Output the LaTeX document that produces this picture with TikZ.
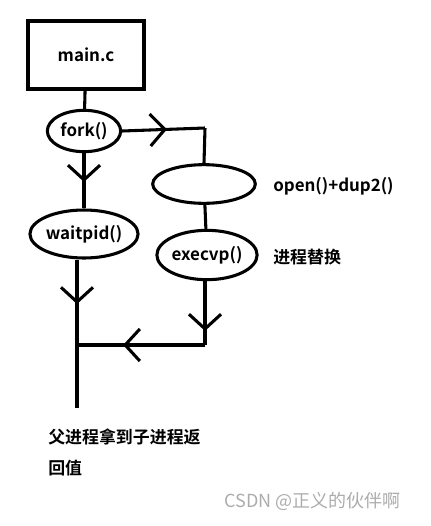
\documentclass[tikz,border=0pt]{standalone}
\usepackage{fontspec}
\setmainfont{Noto Sans CJK SC}[BoldFont={Noto Sans CJK SC Bold}]
\usetikzlibrary{arrows.meta,decorations.markings,shapes.geometric}

\tikzset{
  wire/.style={line width=2.3pt},
  chev/.style={postaction={decorate},decoration={markings,
      mark=at position #1 with {\arrow{Straight Barb[length=11pt,width=24pt]}}}},
  oval/.style={draw,ellipse,line width=2.3pt,inner sep=0pt,font=\bfseries\fontsize{12.7}{15}\selectfont},
  lbl/.style={anchor=west,inner sep=0pt,font=\bfseries\fontsize{12.7}{15}\selectfont}
}

\begin{document}
\begin{tikzpicture}[x=0.75pt,y=-0.75pt]
\useasboundingbox (0,0) rectangle (431,526);

% boxes and ovals
\node[draw,line width=2.3pt,minimum width=87pt,minimum height=51pt,font=\bfseries\fontsize{12.7}{15}\selectfont] (main) at (86,55) {main.c};
\node[oval,minimum width=55pt,minimum height=31pt] (fork) at (84,131) {fork()};
\node[oval,minimum width=77pt,minimum height=29pt] (dup) at (204,184) {};
\node[oval,minimum width=77pt,minimum height=36pt] (wait) at (84,234) {waitpid()};
\node[oval,minimum width=74pt,minimum height=37pt] (exec) at (207,255) {execvp()};

% labels
\node[lbl] (duplbl) at (273,186) {open()+dup2()};
\node[lbl] (execlbl) at (273,257) {进程替换};
\node[lbl] (res1) at (48,437) {父进程拿到子进程返};
\node[lbl] (res2) at (48,468) {回值};
\node[anchor=west,inner sep=0pt,text=gray!65,font=\fontsize{13.5}{16}\selectfont] (mark) at (224,501) {CSDN @正义的伙伴啊};

% helper points
\coordinate (c1) at (205,128);
\coordinate (c2) at (205,345);
\coordinate (j) at (77,345);
\coordinate (endp) at (77,408);

% connectors
\draw[wire] (main) -- (fork);
\draw[wire,chev=0.54] (fork.east) -- (c1);
\draw[wire] (c1) -- (dup.north);
\draw[wire] (dup) -- (exec);
\draw[wire,chev=0.52] (fork) -- (wait);
\draw[wire,chev=0.3] (wait.south -| j) -- (endp);
\draw[wire,chev=0.78] (exec.south -| c2) -- (c2);
\draw[wire,chev=0.64] (c2) -- (j);

\end{tikzpicture}
\end{document}
